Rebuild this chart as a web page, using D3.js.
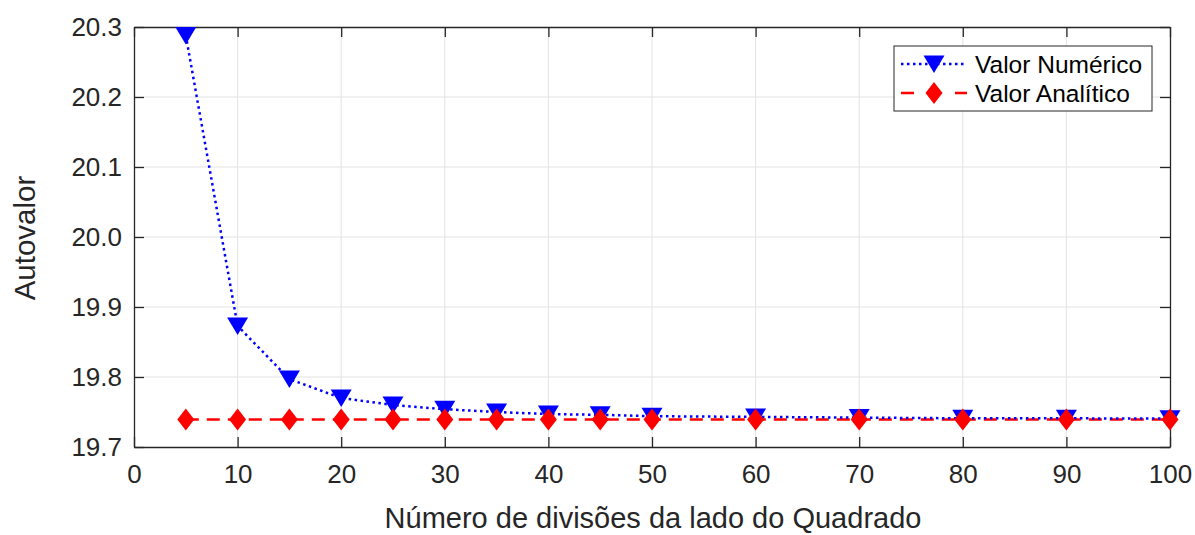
<!DOCTYPE html>
<html>
<head>
<meta charset="utf-8">
<script src="https://cdn.jsdelivr.net/npm/d3@7"></script>
<style>
  body { margin: 0; background: #fff; }
  svg { font-family: "Liberation Sans", Arial, sans-serif; }
</style>
</head>
<body>
<svg></svg>
<script>
// data
const divisions = [5, 10, 15, 20, 25, 30, 35, 40, 45, 50, 60, 70, 80, 90, 100];
const numerico = [20.288, 19.873, 19.797, 19.770, 19.760, 19.754, 19.750, 19.747,
                  19.746, 19.744, 19.743, 19.742, 19.741, 19.741, 19.7405];
const analitico = divisions.map(() => 19.7392);
const xTicks = [0, 10, 20, 30, 40, 50, 60, 70, 80, 90, 100];
const yTicks = [19.7, 19.8, 19.9, 20.0, 20.1, 20.2, 20.3];
const seriesNames = ['Valor Numérico', 'Valor Analítico'];

const s = {
  width: 1195,
  height: 535,
  left: 134,
  right: 1170,
  top: 27,
  bottom: 447,
};

const svg = d3.select('svg')
    .attr('width', s.width)
    .attr('height', s.height);

const x = d3.scaleLinear().domain([0, 100]).range([s.left, s.right]);
const y = d3.scaleLinear().domain([19.7, 20.3]).range([s.bottom, s.top]);

const axisColor = '#262626';

// grid
svg.append('g')
  .selectAll('line')
  .data(xTicks.slice(1, -1))
  .join('line')
    .attr('x1', d => x(d)).attr('x2', d => x(d))
    .attr('y1', s.top).attr('y2', s.bottom)
    .attr('stroke', '#e3e3e3').attr('stroke-width', 1);

svg.append('g')
  .selectAll('line')
  .data(yTicks.slice(1, -1))
  .join('line')
    .attr('y1', d => y(d)).attr('y2', d => y(d))
    .attr('x1', s.left).attr('x2', s.right)
    .attr('stroke', '#e3e3e3').attr('stroke-width', 1);

// axes (ticks inward)
const tickLen = 10;
const xAxis = svg.append('g')
    .attr('transform', `translate(0,${s.bottom})`)
    .call(d3.axisBottom(x).tickValues(xTicks).tickSizeInner(-tickLen).tickSizeOuter(0).tickPadding(17.5)
      .tickFormat(d3.format('d')));
const xTop = svg.append('g')
    .attr('transform', `translate(0,${s.top})`)
    .call(d3.axisTop(x).tickValues(xTicks).tickSizeInner(-tickLen).tickSizeOuter(0).tickFormat(''));
const yAxis = svg.append('g')
    .attr('transform', `translate(${s.left},0)`)
    .call(d3.axisLeft(y).tickValues(yTicks).tickSizeInner(-tickLen).tickSizeOuter(0).tickPadding(12)
      .tickFormat(d3.format('.1f')));
const yRight = svg.append('g')
    .attr('transform', `translate(${s.right},0)`)
    .call(d3.axisRight(y).tickValues(yTicks).tickSizeInner(-tickLen).tickSizeOuter(0).tickFormat(''));

[xAxis, xTop, yAxis, yRight].forEach(g => {
  g.selectAll('path').attr('stroke', axisColor).attr('stroke-width', 1.3);
  g.selectAll('line').attr('stroke', axisColor).attr('stroke-width', 1.3);
  g.selectAll('text').attr('fill', axisColor).style('font-size', '26px')
    .style('font-family', '"Liberation Sans", Arial, sans-serif');
});

// axis labels
svg.append('text')
    .attr('x', (s.left + s.right) / 2 + 1)
    .attr('y', 528)
    .attr('text-anchor', 'middle')
    .attr('fill', axisColor)
    .style('font-size', '29px')
    .text('Número de divisões da lado do Quadrado');

svg.append('text')
    .attr('transform', `translate(35,${(s.top + s.bottom) / 2 + 1}) rotate(-90)`)
    .attr('text-anchor', 'middle')
    .attr('fill', axisColor)
    .style('font-size', '29.5px')
    .text('Autovalor');

// lines
const line = d3.line().x(d => x(d[0])).y(d => y(d[1]));

svg.append('path')
    .datum(divisions.map((d, i) => [d, analitico[i]]))
    .attr('d', line)
    .attr('fill', 'none')
    .attr('stroke', '#ff0000')
    .attr('stroke-width', 2.5)
    .attr('stroke-dasharray', '13,8');

svg.append('path')
    .datum(divisions.map((d, i) => [d, numerico[i]]))
    .attr('d', line)
    .attr('fill', 'none')
    .attr('stroke', '#0000ff')
    .attr('stroke-width', 2.5)
    .attr('stroke-dasharray', '2.5,3.5');

// markers
const triPath = 'M-10.5,-8.5 L10.5,-8.5 L0,9 Z';
const diaPath = 'M0,-11 L8.5,0 L0,11 L-8.5,0 Z';

svg.append('g')
  .selectAll('path')
  .data(divisions.map((d, i) => [d, numerico[i]]))
  .join('path')
    .attr('transform', d => `translate(${x(d[0])},${y(d[1])})`)
    .attr('d', triPath)
    .attr('fill', '#0000ff');

svg.append('g')
  .selectAll('path')
  .data(divisions.map((d, i) => [d, analitico[i]]))
  .join('path')
    .attr('transform', d => `translate(${x(d[0])},${y(d[1])})`)
    .attr('d', diaPath)
    .attr('fill', '#ff0000');

// legend
const lg = svg.append('g').attr('transform', 'translate(894,46)');
lg.append('rect')
    .attr('width', 258).attr('height', 65)
    .attr('fill', '#fff')
    .attr('stroke', axisColor).attr('stroke-width', 1);

const legendRows = [
  { name: seriesNames[0], color: '#0000ff', dash: '2.5,3.5', mark: triPath, dy: 18 },
  { name: seriesNames[1], color: '#ff0000', dash: '13,14', mark: diaPath, dy: 47 },
];
legendRows.forEach(r => {
  const row = lg.append('g').attr('transform', `translate(0,${r.dy})`);
  row.append('line')
      .attr('x1', 7).attr('x2', 73)
      .attr('stroke', r.color).attr('stroke-width', 2.5)
      .attr('stroke-dasharray', r.dash);
  row.append('path')
      .attr('transform', 'translate(40,0)')
      .attr('d', r.mark)
      .attr('fill', r.color);
  row.append('text')
      .attr('x', 81).attr('y', 8.5)
      .attr('fill', '#000')
      .style('font-size', '24.5px')
      .text(r.name);
});
</script>
</body>
</html>
